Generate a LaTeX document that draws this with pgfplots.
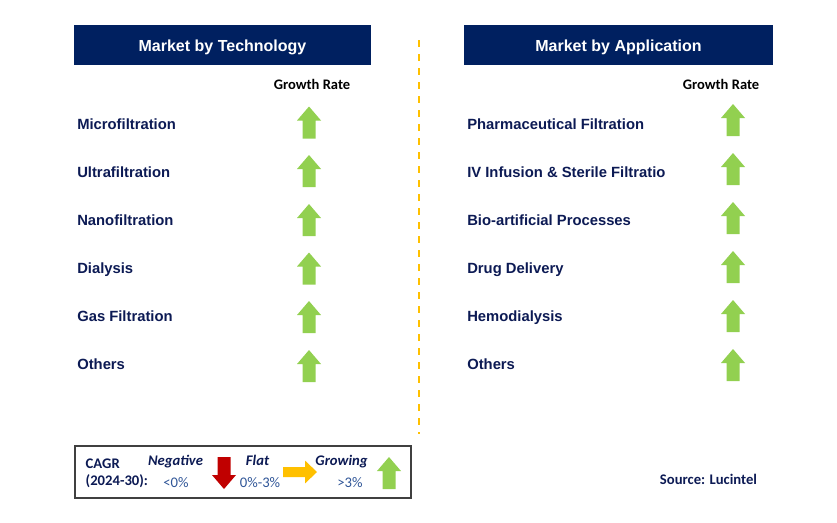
\documentclass[border=0pt]{standalone}
\usepackage{fontspec}
\setmainfont{Liberation Sans}
\newfontfamily\calfont{Carlito}
\usepackage{pgfplots}
\usepackage{pgfplotstable}
\pgfplotsset{compat=1.18}

\definecolor{hdrNavy}{RGB}{0,32,96}
\definecolor{txtNavy}{RGB}{12,26,84}
\definecolor{upGreen}{RGB}{146,208,80}
\definecolor{flatAmber}{RGB}{255,192,0}
\definecolor{downRed}{RGB}{192,0,0}
\definecolor{pctBlue}{RGB}{47,85,151}
\definecolor{boxGray}{RGB}{64,64,64}

% arrow marks, sizes in pt (1px = 0.75pt)
\pgfdeclareplotmark{arrowup}{%
  \pgfpathmoveto{\pgfqpoint{-4.875pt}{-12pt}}%
  \pgfpathlineto{\pgfqpoint{4.875pt}{-12pt}}%
  \pgfpathlineto{\pgfqpoint{4.875pt}{1.5pt}}%
  \pgfpathlineto{\pgfqpoint{9pt}{1.5pt}}%
  \pgfpathlineto{\pgfqpoint{0pt}{12pt}}%
  \pgfpathlineto{\pgfqpoint{-9pt}{1.5pt}}%
  \pgfpathlineto{\pgfqpoint{-4.875pt}{1.5pt}}%
  \pgfpathclose
  \pgfusepathqfill}
\pgfdeclareplotmark{arrowright}{%
  \pgfpathmoveto{\pgfqpoint{-12.75pt}{-3.75pt}}%
  \pgfpathlineto{\pgfqpoint{3.75pt}{-3.75pt}}%
  \pgfpathlineto{\pgfqpoint{3.75pt}{-8.6pt}}%
  \pgfpathlineto{\pgfqpoint{12.75pt}{0pt}}%
  \pgfpathlineto{\pgfqpoint{3.75pt}{8.6pt}}%
  \pgfpathlineto{\pgfqpoint{3.75pt}{3.75pt}}%
  \pgfpathlineto{\pgfqpoint{-12.75pt}{3.75pt}}%
  \pgfpathclose
  \pgfusepathqfill}

% base = text baseline, arrow = arrow centre (pixel rows, top down)
\pgfplotstableread[col sep=comma]{
base,arrow,label
129,122.5,Microfiltration
177,171,Ultrafiltration
225,220,Nanofiltration
273,268.5,Dialysis
321,317,Gas Filtration
369,366,Others
}\techdata

\pgfplotstableread[col sep=comma]{
base,arrow,label
129,120,Pharmaceutical Filtration
177,169,IV Infusion \& Sterile Filtratio
225,218,Bio-artificial Processes
273,267,Drug Delivery
321,316,Hemodialysis
369,365,Others
}\appdata

\begin{document}
\begin{tikzpicture}
\begin{axis}[
    scale only axis,
    width=627.75pt, height=391.5pt,
    xmin=0, xmax=837, ymin=0, ymax=522,
    y dir=reverse,
    hide axis, clip=false,
    every node near coord/.append style={anchor=base west, inner sep=0pt,
        font=\bfseries\fontsize{11.1}{13}\selectfont, text=txtNavy},
]
    \path (axis cs:0,0) (axis cs:837,522);

    % headers
    \fill[hdrNavy] (axis cs:74,25) rectangle (axis cs:371,65);
    \fill[hdrNavy] (axis cs:464,25) rectangle (axis cs:773,65);
    \node[anchor=base, text=white, font=\bfseries\fontsize{12}{14}\selectfont]
        at (axis cs:222.5,51.5) {Market by Technology};
    \node[anchor=base, text=white, font=\bfseries\fontsize{12}{14}\selectfont]
        at (axis cs:618.5,51.5) {Market by Application};
    \node[anchor=base, font=\calfont\bfseries\fontsize{10.9}{12}\selectfont]
        at (axis cs:312,89) {Growth Rate};
    \node[anchor=base, font=\calfont\bfseries\fontsize{10.9}{12}\selectfont]
        at (axis cs:721,89) {Growth Rate};

    % divider
    \draw[flatAmber, line width=1.9pt, dash pattern=on 5.5pt off 5pt]
        (axis cs:419,40) -- (axis cs:419,434);

    % category labels
    \addplot[draw=none, nodes near coords, point meta=explicit symbolic]
        table[x expr=77, y=base, meta=label] {\techdata};
    \addplot[draw=none, nodes near coords, point meta=explicit symbolic]
        table[x expr=467, y=base, meta=label] {\appdata};

    % growth arrows
    \addplot[only marks, color=upGreen, mark=arrowup]
        table[x expr=309, y=arrow] {\techdata};
    \addplot[only marks, color=upGreen, mark=arrowup]
        table[x expr=733, y=arrow] {\appdata};

    % legend
    \draw[boxGray, line width=1pt] (axis cs:75,446) rectangle (axis cs:411,498);
    \node[anchor=base west, text=txtNavy, font=\calfont\bfseries\fontsize{11}{12}\selectfont]
        at (axis cs:81,468) {CAGR};
    \node[anchor=base west, text=txtNavy, font=\calfont\bfseries\fontsize{11}{12}\selectfont]
        at (axis cs:81,485) {(2024-30):};
    \node[anchor=base, text=txtNavy, font=\calfont\bfseries\itshape\fontsize{11}{12}\selectfont]
        at (axis cs:175.5,465) {Negative};
    \node[anchor=base, text=txtNavy, font=\calfont\bfseries\itshape\fontsize{11}{12}\selectfont]
        at (axis cs:257.5,465) {Flat};
    \node[anchor=base, text=txtNavy, font=\calfont\bfseries\itshape\fontsize{11}{12}\selectfont]
        at (axis cs:341.5,465) {Growing};
    \node[anchor=base, text=pctBlue, font=\calfont\fontsize{11}{12}\selectfont]
        at (axis cs:176,487) {<0\%};
    \node[anchor=base, text=pctBlue, font=\calfont\fontsize{11}{12}\selectfont]
        at (axis cs:260,487) {0\%-3\%};
    \node[anchor=base, text=pctBlue, font=\calfont\fontsize{11}{12}\selectfont]
        at (axis cs:350,487) {>3\%};
    \addplot[only marks, color=downRed, mark=arrowup, mark options={rotate=180}]
        coordinates {(224,473)};
    \addplot[only marks, color=flatAmber, mark=arrowright]
        coordinates {(300,472)};
    \addplot[only marks, color=upGreen, mark=arrowup]
        coordinates {(389,473)};

    \node[anchor=base, text=txtNavy, font=\calfont\bfseries\fontsize{11}{12}\selectfont]
        at (axis cs:708.5,484) {Source: Lucintel};
\end{axis}
\end{tikzpicture}
\end{document}
